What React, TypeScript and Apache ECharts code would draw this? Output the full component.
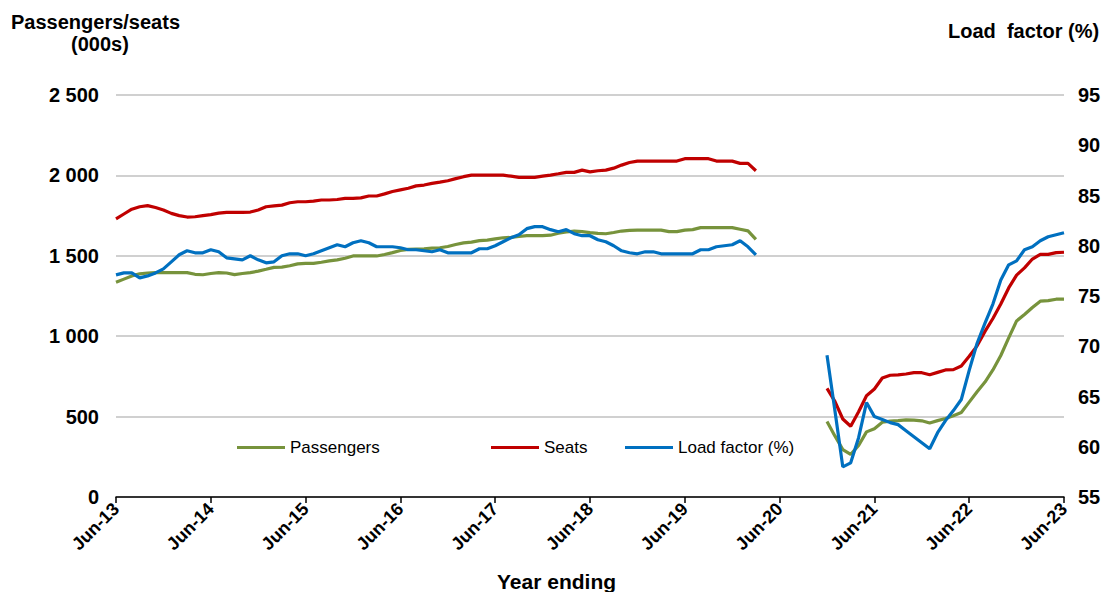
import React, { useEffect, useRef } from "react";
import * as echarts from "echarts";

const MONTHS = ["Jun", "Jul", "Aug", "Sep", "Oct", "Nov", "Dec", "Jan", "Feb", "Mar", "Apr", "May"];
const START_YEAR = 13;
const N_MONTHS = 121;

// Passengers (000s), year ending, Jun-13 .. Mar-20, then Dec-20 .. Jun-23
const passengersSeg1 = [
  1335, 1355, 1375, 1388, 1393, 1395, 1395, 1395, 1395, 1395, 1385, 1382, 1390, 1395, 1393, 1383,
  1390, 1395, 1405, 1416, 1428, 1430, 1438, 1450, 1453, 1453, 1460, 1468, 1475, 1485, 1499, 1499,
  1499, 1499, 1508, 1520, 1533, 1540, 1542, 1544, 1548, 1550, 1558, 1570, 1580, 1585, 1594, 1598,
  1605, 1612, 1615, 1620, 1625, 1625, 1625, 1628, 1640, 1648, 1654, 1650, 1644, 1640, 1637, 1645,
  1654, 1658, 1660, 1660, 1660, 1660, 1650, 1650, 1660, 1663, 1675, 1675, 1675, 1675, 1675, 1665,
  1655, 1602,
];
const passengersSeg2 = [
  470, 380, 295, 265, 320, 405, 425, 465, 472, 475, 480, 478, 474, 460, 475, 488, 505, 525, 590, 655,
  715, 790, 880, 990, 1095, 1135, 1178, 1218, 1221, 1230, 1231,
];

// Seats (000s)
const seatsSeg1 = [
  1730, 1760, 1790, 1805, 1812, 1800, 1785, 1764, 1750, 1741, 1743, 1750, 1756, 1765, 1770, 1770,
  1770, 1772, 1785, 1805, 1810, 1815, 1830, 1836, 1836, 1840, 1847, 1847, 1850, 1857, 1857, 1860,
  1872, 1872, 1885, 1900, 1910, 1920, 1935, 1940, 1950, 1958, 1967, 1980, 1992, 2002, 2002, 2002,
  2002, 2002, 1995, 1988, 1988, 1988, 1995, 2002, 2010, 2019, 2019, 2033, 2022, 2029, 2033, 2045,
  2064, 2080, 2089, 2089, 2089, 2089, 2089, 2089, 2104, 2104, 2104, 2104, 2089, 2089, 2089, 2075,
  2075, 2029,
];
const seatsSeg2 = [
  675, 595, 485, 440, 530, 630, 672, 740, 757, 759, 765, 773, 773, 760, 775, 790, 792, 815, 875, 940,
  1030, 1110, 1200, 1300, 1380, 1425, 1480, 1509, 1509, 1520, 1522,
];

// Load factor (%)
const loadSeg1 = [
  77.1, 77.3, 77.3, 76.8, 77.0, 77.3, 77.7, 78.4, 79.1, 79.5, 79.3, 79.3, 79.6, 79.4, 78.8, 78.7,
  78.6, 79.0, 78.6, 78.3, 78.4, 79.0, 79.2, 79.2, 79.0, 79.2, 79.5, 79.8, 80.1, 79.9, 80.3, 80.5,
  80.3, 79.9, 79.9, 79.9, 79.8, 79.6, 79.6, 79.5, 79.4, 79.6, 79.3, 79.3, 79.3, 79.3, 79.7, 79.7,
  80.0, 80.4, 80.8, 81.1, 81.7, 81.9, 81.9, 81.6, 81.4, 81.6, 81.2, 81.0, 81.0, 80.6, 80.4, 80.0,
  79.5, 79.3, 79.2, 79.4, 79.4, 79.2, 79.2, 79.2, 79.2, 79.2, 79.6, 79.6, 79.9, 80.0, 80.1, 80.5,
  79.9, 79.1,
];
const loadSeg2 = [
  69.1, 63.6, 58.0, 58.4, 60.9, 64.4, 63.0, 62.7, 62.4, 62.2, 61.6, 61.0, 60.4, 59.8, 61.4, 62.6,
  63.6, 64.7, 67.6, 70.3, 72.3, 74.2, 76.6, 78.1, 78.5, 79.6, 79.9, 80.5, 80.9, 81.1, 81.3,
];

const SEG2_START = 90;

function buildCategories(): string[] {
  const out: string[] = [];
  for (let i = 0; i < N_MONTHS; i++) {
    const mi = i % 12;
    // Jun is index 0; Jan (index 7) starts a new calendar year
    const year = START_YEAR + Math.floor((i + 5) / 12);
    out.push(MONTHS[mi] + "-" + String(year).padStart(2, "0"));
  }
  return out;
}

function joinSegments(a: number[], b: number[]): (number | null)[] {
  const out: (number | null)[] = [];
  for (let i = 0; i < N_MONTHS; i++) {
    if (i < a.length) out.push(a[i]);
    else if (i >= SEG2_START && i - SEG2_START < b.length) out.push(b[i - SEG2_START]);
    else out.push(null);
  }
  return out;
}

const FONT = "'Liberation Sans', Arial, sans-serif";
const GREEN = "#77933C";
const RED = "#C00000";
const BLUE = "#0070C0";

export default function App() {
  const ref = useRef<HTMLDivElement>(null);

  useEffect(() => {
    if (!ref.current) return;
    const chart = echarts.init(ref.current, null, { renderer: "svg" });
    const categories = buildCategories();

    const legendBase = {
      top: 434,
      itemWidth: 48,
      itemHeight: 3,
      icon: "rect",
      textStyle: { fontFamily: FONT, fontSize: 17, color: "#000" },
      itemGap: 8,
    };

    chart.setOption({
      animation: false,
      backgroundColor: "#fff",
      grid: { left: 116, right: 46, top: 95, bottom: 95, containLabel: false },
      legend: [
        { ...legendBase, left: 232, data: ["Passengers"] },
        { ...legendBase, left: 486, data: ["Seats"] },
        { ...legendBase, left: 620, data: ["Load factor (%)"] },
      ],
      graphic: [
        {
          type: "text",
          left: 11,
          top: 12,
          style: { text: "Passengers/seats", font: `bold 20px ${FONT}`, fill: "#000" },
        },
        {
          type: "text",
          left: 71,
          top: 34,
          style: { text: "(000s)", font: `bold 20px ${FONT}`, fill: "#000" },
        },
        {
          type: "text",
          left: 948,
          top: 21,
          style: { text: "Load  factor (%)", font: `bold 20px ${FONT}`, fill: "#000" },
        },
        {
          type: "text",
          left: 497,
          top: 571,
          style: { text: "Year ending", font: `bold 21px ${FONT}`, fill: "#000" },
        },
      ],
      xAxis: {
        type: "category",
        data: categories,
        boundaryGap: false,
        axisLine: { show: true, lineStyle: { color: "#000", width: 1.5 } },
        axisTick: { show: true, interval: 11, length: 6, lineStyle: { color: "#000", width: 1.5 } },
        axisLabel: {
          interval: 11,
          rotate: 45,
          fontFamily: FONT,
          fontWeight: "bold",
          fontSize: 18,
          color: "#000",
          margin: 9,
        },
        splitLine: { show: false },
      },
      yAxis: [
        {
          type: "value",
          min: 0,
          max: 2500,
          interval: 500,
          axisLine: { show: false },
          axisTick: { show: false },
          axisLabel: {
            fontFamily: FONT,
            fontWeight: "bold",
            fontSize: 20,
            color: "#000",
            margin: 17,
            formatter: (v: number) =>
              v >= 1000 ? `${Math.floor(v / 1000)} ${String(v % 1000).padStart(3, "0")}` : String(v),
          },
          splitLine: { show: true, lineStyle: { color: "#c0c0c0", width: 1.5 } },
        },
        {
          type: "value",
          min: 55,
          max: 95,
          interval: 5,
          position: "right",
          axisLine: { show: false },
          axisTick: { show: false },
          axisLabel: {
            fontFamily: FONT,
            fontWeight: "bold",
            fontSize: 20,
            color: "#000",
            margin: 14,
          },
          splitLine: { show: false },
        },
      ],
      series: [
        {
          name: "Passengers",
          type: "line",
          yAxisIndex: 0,
          data: joinSegments(passengersSeg1, passengersSeg2),
          showSymbol: false,
          symbol: "none",
          lineStyle: { color: GREEN, width: 3.2 },
          itemStyle: { color: GREEN },
          connectNulls: false,
        },
        {
          name: "Seats",
          type: "line",
          yAxisIndex: 0,
          data: joinSegments(seatsSeg1, seatsSeg2),
          showSymbol: false,
          symbol: "none",
          lineStyle: { color: RED, width: 3.2 },
          itemStyle: { color: RED },
          connectNulls: false,
        },
        {
          name: "Load factor (%)",
          type: "line",
          yAxisIndex: 1,
          data: joinSegments(loadSeg1, loadSeg2),
          showSymbol: false,
          symbol: "none",
          lineStyle: { color: BLUE, width: 3.2 },
          itemStyle: { color: BLUE },
          connectNulls: false,
        },
      ],
    });

    return () => chart.dispose();
  }, []);

  return (
    <div
      ref={ref}
      style={{ position: "fixed", left: 0, top: 0, width: 1110, height: 592, background: "#fff" }}
    />
  );
}
